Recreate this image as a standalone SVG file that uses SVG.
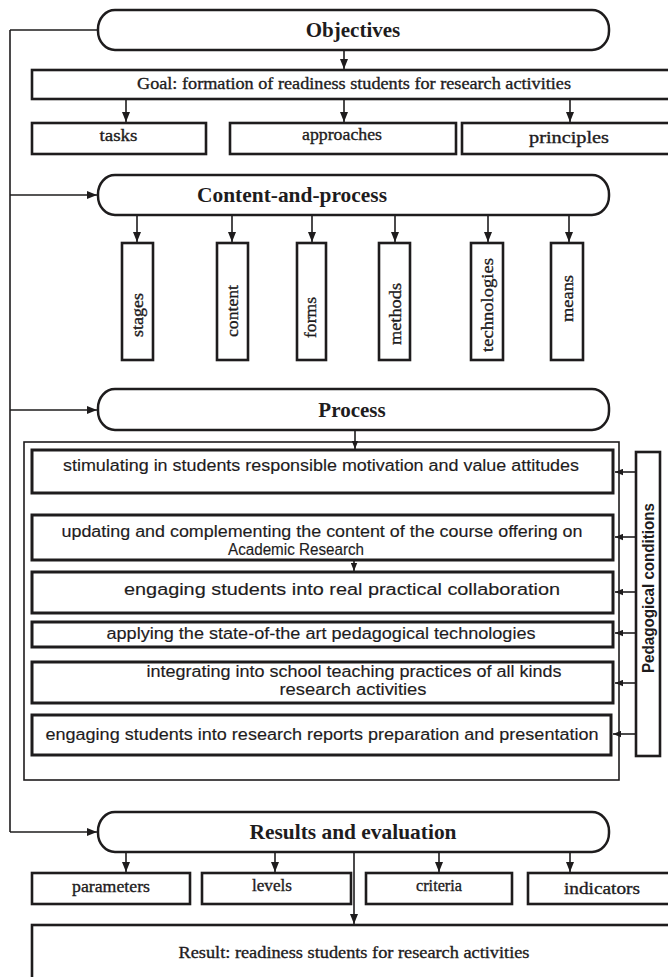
<svg xmlns="http://www.w3.org/2000/svg" width="668" height="977" viewBox="0 0 668 977">
<style>
.bg{fill:#ffffff}
.pill{fill:#ffffff;stroke:#1e1c1d;stroke-width:2.5}
.box{fill:#ffffff;stroke:#1e1c1d;stroke-width:2.6}
.pbox{fill:#ffffff;stroke:#1e1c1d;stroke-width:3}
.frame{fill:none;stroke:#1e1c1d;stroke-width:1.6}
.con{fill:none;stroke:#1e1c1d;stroke-width:1.6}
.ttl{font-family:"Liberation Serif","Times New Roman",serif;font-weight:bold;font-size:21px;fill:#1e1c1d;text-anchor:middle}
.ser{font-family:"Liberation Serif","Times New Roman",serif;font-size:17px;fill:#1e1c1d;stroke:#1e1c1d;stroke-width:0.35;text-anchor:middle}
.san{font-family:"Liberation Sans",Arial,sans-serif;font-size:16px;fill:#1e1c1d;stroke:#1e1c1d;stroke-width:0.15;text-anchor:middle}
.sanb{font-family:"Liberation Sans",Arial,sans-serif;font-weight:bold;font-size:16px;fill:#1e1c1d;text-anchor:middle}
</style>
<defs>
<marker id="ah" viewBox="0 0 10 8" refX="10" refY="4" markerWidth="10" markerHeight="8" markerUnits="userSpaceOnUse" orient="auto">
<path d="M0,0 L10,4 L0,8 z" fill="#1e1c1d"/>
</marker>
<marker id="ahs" viewBox="0 0 10 8" refX="10" refY="4" markerWidth="8" markerHeight="7" markerUnits="userSpaceOnUse" orient="auto">
<path d="M0,0 L10,4 L0,8 z" fill="#1e1c1d"/>
</marker>
</defs>
<rect class="bg" x="0" y="0" width="668" height="977"/>

<g id="connectors">
<path class="con" d="M10,30 L98,30"/>
<path class="con" d="M10,30 L10,832"/>
<path class="con" d="M10,195 L97,195" marker-end="url(#ah)"/>
<path class="con" d="M10,410 L97,410" marker-end="url(#ah)"/>
<path class="con" d="M10,832 L97,832" marker-end="url(#ah)"/>
<path class="con" d="M344,50 L344,69" marker-end="url(#ah)"/>
<path class="con" d="M126,99 L126,122" marker-end="url(#ah)"/>
<path class="con" d="M344,99 L344,122" marker-end="url(#ah)"/>
<path class="con" d="M570,99 L570,122" marker-end="url(#ah)"/>
<path class="con" d="M137,215 L137,242" marker-end="url(#ah)"/>
<path class="con" d="M232,215 L232,242" marker-end="url(#ah)"/>
<path class="con" d="M312,215 L312,242" marker-end="url(#ah)"/>
<path class="con" d="M395,215 L395,242" marker-end="url(#ah)"/>
<path class="con" d="M488,215 L488,242" marker-end="url(#ah)"/>
<path class="con" d="M569,215 L569,242" marker-end="url(#ah)"/>
<path class="con" d="M355,430 L355,449" marker-end="url(#ahs)"/>
<path class="con" d="M354,560 L354,571" marker-end="url(#ahs)"/>
<path class="con" d="M636,472 L615,472" marker-end="url(#ahs)"/>
<path class="con" d="M636,537 L615,537" marker-end="url(#ahs)"/>
<path class="con" d="M636,592 L615,592" marker-end="url(#ahs)"/>
<path class="con" d="M636,633 L615,633" marker-end="url(#ahs)"/>
<path class="con" d="M636,683 L615,683" marker-end="url(#ahs)"/>
<path class="con" d="M636,734 L613,734" marker-end="url(#ahs)"/>
<path class="con" d="M126,852 L126,872" marker-end="url(#ah)"/>
<path class="con" d="M275,852 L275,872" marker-end="url(#ah)"/>
<path class="con" d="M439,852 L439,872" marker-end="url(#ah)"/>
<path class="con" d="M570,852 L570,872" marker-end="url(#ah)"/>
<path class="con" d="M354,852 L354,924" marker-end="url(#ah)"/>
</g>

<g id="objectives">
<rect class="pill" x="98" y="10" width="511" height="40" rx="17" ry="19"/>
<text class="ttl" x="353" y="37">Objectives</text>
</g>
<g id="goal">
<rect class="box" x="32" y="70" width="640" height="29"/>
<text class="ser" x="354" y="89" textLength="434" lengthAdjust="spacingAndGlyphs">Goal: formation of readiness  students for research activities</text>
</g>
<g id="tasks">
<rect class="box" x="32" y="123" width="174" height="31"/>
<text class="ser" x="118.5" y="141" textLength="38" lengthAdjust="spacingAndGlyphs">tasks</text>
</g>
<g id="approaches">
<rect class="box" x="230" y="123" width="226" height="31"/>
<text class="ser" x="342" y="140" textLength="80" lengthAdjust="spacingAndGlyphs">approaches</text>
</g>
<g id="principles">
<rect class="box" x="462" y="123" width="210" height="31"/>
<text class="ser" x="569" y="143" font-size="19" textLength="80" lengthAdjust="spacingAndGlyphs">principles</text>
</g>

<g id="content-and-process">
<rect class="pill" x="98" y="175" width="511" height="40" rx="17" ry="19"/>
<text class="ttl" x="292" y="202" textLength="190" lengthAdjust="spacingAndGlyphs">Content-and-process</text>
</g>
<g id="stages">
<rect class="box" x="122" y="243" width="31" height="117"/>
<text class="ser" transform="translate(143,315) rotate(-90)" x="0" y="0" font-size="18.5" textLength="44" lengthAdjust="spacingAndGlyphs">stages</text>
</g>
<g id="content">
<rect class="box" x="217" y="243" width="31" height="117"/>
<text class="ser" transform="translate(238,311) rotate(-90)" x="0" y="0" font-size="18.5" textLength="52" lengthAdjust="spacingAndGlyphs">content</text>
</g>
<g id="forms">
<rect class="box" x="297" y="243" width="29" height="117"/>
<text class="ser" transform="translate(316,317.5) rotate(-90)" x="0" y="0" font-size="18.5" textLength="41" lengthAdjust="spacingAndGlyphs">forms</text>
</g>
<g id="methods">
<rect class="box" x="379" y="243" width="31" height="117"/>
<text class="ser" transform="translate(401,314) rotate(-90)" x="0" y="0" font-size="18.5" textLength="62" lengthAdjust="spacingAndGlyphs">methods</text>
</g>
<g id="technologies">
<rect class="box" x="471" y="243" width="32" height="117"/>
<text class="ser" transform="translate(493,305) rotate(-90)" x="0" y="0" font-size="18.5" textLength="94" lengthAdjust="spacingAndGlyphs">technologies</text>
</g>
<g id="means">
<rect class="box" x="551" y="243" width="32" height="117"/>
<text class="ser" transform="translate(573,298.5) rotate(-90)" x="0" y="0" font-size="18.5" textLength="47" lengthAdjust="spacingAndGlyphs">means</text>
</g>

<g id="process">
<rect class="pill" x="98" y="389" width="511" height="41" rx="17" ry="19"/>
<text class="ttl" x="352" y="417">Process</text>
</g>
<g id="process-frame">
<rect class="frame" x="24" y="442" width="595" height="338"/>
</g>
<g id="stimulating">
<rect class="pbox" x="32" y="450" width="581" height="43"/>
<text class="san" x="321" y="471" textLength="516" lengthAdjust="spacingAndGlyphs">stimulating in students responsible motivation and value attitudes</text>
</g>
<g id="updating">
<rect class="pbox" x="32" y="515" width="581" height="45"/>
<text class="san" x="322" y="537" textLength="521" lengthAdjust="spacingAndGlyphs">updating and complementing the content of the course offering on</text>
<text class="san" x="296" y="555" textLength="136" lengthAdjust="spacingAndGlyphs">Academic Research</text>
</g>
<g id="engaging-collaboration">
<rect class="pbox" x="32" y="572" width="581" height="41"/>
<text class="san" x="342" y="595" font-size="17.5" textLength="436" lengthAdjust="spacingAndGlyphs">engaging students into real practical collaboration</text>
</g>
<g id="applying">
<rect class="pbox" x="32" y="622" width="581" height="25"/>
<text class="san" x="321" y="639" textLength="429" lengthAdjust="spacingAndGlyphs">applying the state-of-the art pedagogical technologies</text>
</g>
<g id="integrating">
<rect class="pbox" x="32" y="662" width="581" height="41"/>
<text class="san" x="354" y="677" textLength="415" lengthAdjust="spacingAndGlyphs">integrating into school teaching practices of all kinds</text>
<text class="san" x="353" y="695" textLength="147" lengthAdjust="spacingAndGlyphs">research activities</text>
</g>
<g id="engaging-reports">
<rect class="pbox" x="32" y="715" width="579" height="40"/>
<text class="san" x="322" y="740" textLength="553" lengthAdjust="spacingAndGlyphs">engaging students into research reports preparation and presentation</text>
</g>
<g id="pedagogical-conditions">
<rect class="box" x="636" y="452" width="24" height="304"/>
<text class="sanb" transform="translate(653.5,588) rotate(-90)" x="0" y="0" textLength="170" lengthAdjust="spacingAndGlyphs">Pedagogical conditions</text>
</g>

<g id="results">
<rect class="pill" x="98" y="812" width="511" height="40" rx="17" ry="19"/>
<text class="ttl" x="353" y="839" textLength="207" lengthAdjust="spacingAndGlyphs">Results and evaluation</text>
</g>
<g id="parameters">
<rect class="box" x="32" y="873" width="158" height="31"/>
<text class="ser" x="111" y="892" textLength="78" lengthAdjust="spacingAndGlyphs">parameters</text>
</g>
<g id="levels">
<rect class="box" x="202" y="873" width="149" height="31"/>
<text class="ser" x="272" y="891" textLength="40" lengthAdjust="spacingAndGlyphs">levels</text>
</g>
<g id="criteria">
<rect class="box" x="366" y="873" width="146" height="31"/>
<text class="ser" x="439" y="891" textLength="46" lengthAdjust="spacingAndGlyphs">criteria</text>
</g>
<g id="indicators">
<rect class="box" x="528" y="873" width="144" height="31"/>
<text class="ser" x="602" y="894" font-size="18.5" textLength="76" lengthAdjust="spacingAndGlyphs">indicators</text>
</g>
<g id="result">
<rect class="box" x="32" y="925" width="640" height="70"/>
<text class="ser" x="354" y="958" textLength="351" lengthAdjust="spacingAndGlyphs">Result: readiness  students for research activities</text>
</g>
</svg>
